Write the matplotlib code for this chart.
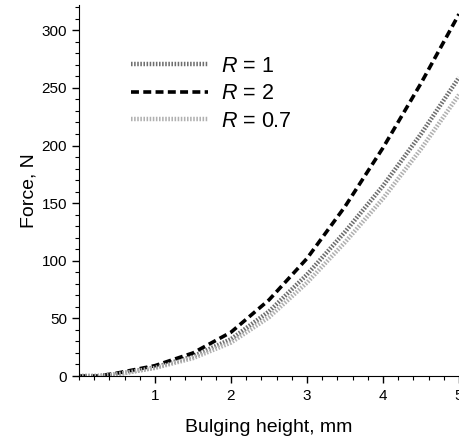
import matplotlib
matplotlib.use('Agg')
import matplotlib.pyplot as plt
from matplotlib.ticker import MultipleLocator

plt.rcParams['font.family'] = ['Liberation Sans', 'DejaVu Sans']
plt.rcParams['mathtext.fontset'] = 'custom'
plt.rcParams['mathtext.it'] = 'Liberation Sans:italic'
plt.rcParams['mathtext.rm'] = 'Liberation Sans'

# bulging height, mm
height = [0, 0.25, 0.5, 1, 1.5, 2, 2.5, 3, 3.5, 4, 4.5, 5]
# force, N
force_r1 = [0, 0, 1.5, 7.5, 17, 32, 56, 88, 125, 165, 210, 259]
force_r2 = [0, 0, 2.5, 9, 20, 38, 66, 102, 147, 198, 254, 314]
force_r07 = [0, 0, 1.5, 7, 15.5, 29, 51, 81, 116, 154, 197, 244]
labels = ['$R$ = 1', '$R$ = 2', '$R$ = 0.7']

fig = plt.figure(figsize=(4.59, 4.45), dpi=100)
ax = fig.add_axes([0.172, 0.155, 0.828, 0.834])

ax.plot(height, force_r1, color='#6e6e6e', lw=3.2, ls=(0, (0.35, 0.35)), label=labels[0])
ax.plot(height, force_r2, color='black', lw=2.6, ls=(0, (2.2, 1.2)), label=labels[1])
ax.plot(height, force_r07, color='#b0b0b0', lw=3.2, ls=(0, (0.35, 0.35)), label=labels[2])

ax.set_xlim(0, 5)
ax.set_ylim(0, 322)
ax.spines['top'].set_visible(False)
ax.spines['right'].set_visible(False)
ax.xaxis.set_minor_locator(MultipleLocator(0.2))
ax.yaxis.set_major_locator(MultipleLocator(50))
ax.yaxis.set_minor_locator(MultipleLocator(10))
ax.set_xticks([1, 2, 3, 4, 5])
ax.tick_params(which='major', length=5, width=1, labelsize=11)
ax.tick_params(which='minor', length=3, width=0.8)
ax.tick_params(axis='x', pad=4)

ax.set_xlabel('Bulging height, mm', fontsize=14, labelpad=12)
ax.set_ylabel('Force, N', fontsize=14, labelpad=3)

leg = ax.legend(loc='upper left', bbox_to_anchor=(0.085, 0.915), frameon=False,
                fontsize=15.5, handlelength=3.6, handletextpad=0.6,
                labelspacing=0.3)

fig.savefig('out.png', dpi=100)
